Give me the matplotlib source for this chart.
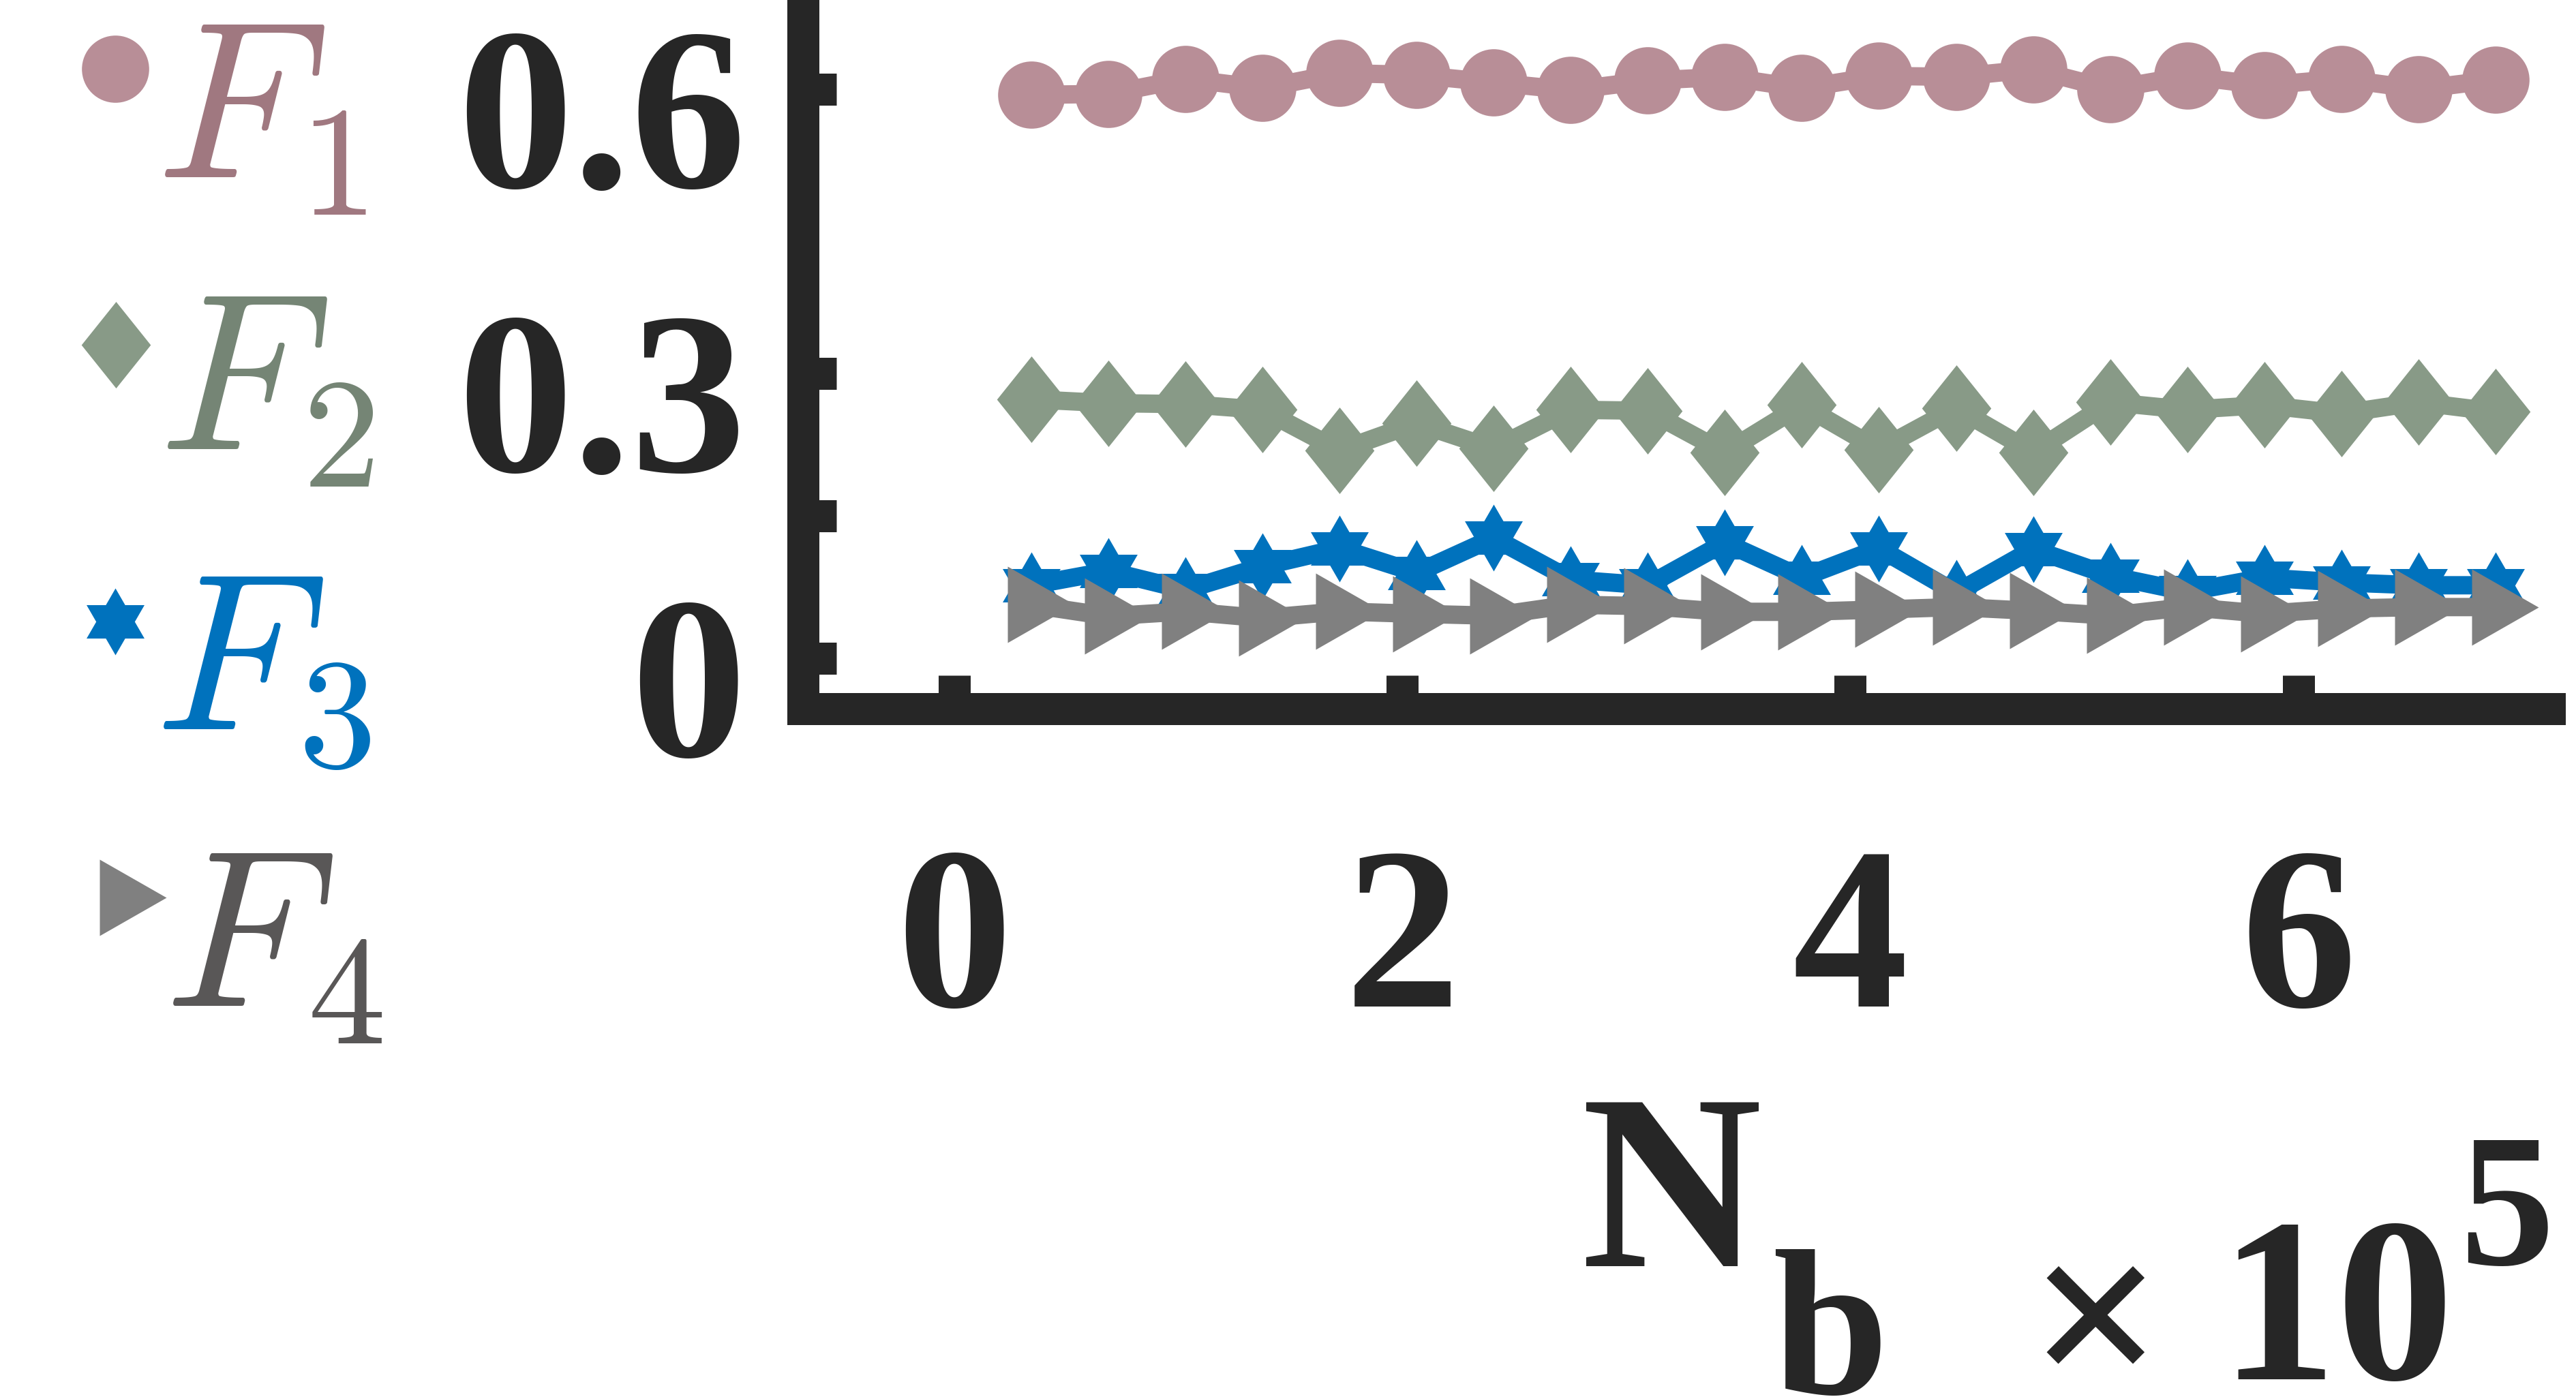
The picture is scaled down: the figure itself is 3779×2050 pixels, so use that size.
import numpy as np
import matplotlib
matplotlib.use('Agg')
import matplotlib.pyplot as plt
from matplotlib.lines import Line2D
from matplotlib.transforms import ScaledTranslation

plt.rcParams['mathtext.fontset'] = 'cm'

# data (x in units of 1e5)
nb = [0.344, 0.688, 1.032, 1.376, 1.72, 2.064, 2.408, 2.752, 3.096, 3.44,
      3.784, 4.128, 4.472, 4.816, 5.16, 5.504, 5.848, 6.192, 6.536, 6.88]
f1 = [0.594, 0.595, 0.611, 0.601, 0.617, 0.615, 0.607, 0.599, 0.609, 0.613,
      0.601, 0.614, 0.613, 0.621, 0.600, 0.614, 0.604, 0.611, 0.600, 0.610]
f2 = [0.273, 0.269, 0.268, 0.262, 0.219, 0.248, 0.221, 0.262, 0.261, 0.217,
      0.267, 0.220, 0.264, 0.217, 0.270, 0.262, 0.267, 0.258, 0.270, 0.260]
f3 = [0.077, 0.092, 0.072, 0.097, 0.116, 0.090, 0.127, 0.083, 0.077, 0.122,
      0.085, 0.116, 0.069, 0.115, 0.087, 0.070, 0.085, 0.080, 0.077, 0.077]
f4 = [0.0565, 0.0444, 0.0494, 0.0424, 0.0494, 0.0469, 0.0449, 0.0565, 0.055, 0.049,
      0.049, 0.0514, 0.054, 0.050, 0.045, 0.054, 0.047, 0.0524, 0.054, 0.054]

yticks = [0, 0.15, 0.3, 0.6]
yticklabels = ['0', '', '0.3', '0.6']
xticks = [0, 2, 4, 6]
xticklabels = ['0', '2', '4', '6']
names = [r'$F_1$', r'$F_2$', r'$F_3$', r'$F_4$']

dark = '#262626'
mcols = ['#B88E97', '#889A87', '#0072BD', '#808080']
tcols = ['#A07880', '#758575', '#0072BD', '#595757']

# marker shapes (matlab-like diamond, hexagram, right triangle)
diamond = [(0, 1), (0.8, 0), (0, -1), (-0.8, 0)]
hexa = []
for k in range(12):
    ang = np.pi / 2 + k * np.pi / 6
    r = 1.0 if k % 2 == 0 else 1 / np.sqrt(3)
    hexa.append((r * np.cos(ang), r * np.sin(ang)))
tri = [(-1, -1.6), (1.8, 0), (-1, 1.6)]

markers = ['o', diamond, hexa, tri]
msizes = [71, 91.4, 70.6, 90.7]
series = [f1, f2, f3, f4]

W, H = 3779, 2050
fig = plt.figure(figsize=(W / 100, H / 100), dpi=100)
ax = fig.add_axes([1178 / W, 1 - 1039.5 / H, (3740 - 1178) / W, 1039.5 / H + 0.02])

for ys, m, ms, c in zip(series, markers, msizes, mcols):
    ax.plot(nb, ys, color=c, lw=19.4, marker=m, ms=ms, mew=0, mfc=c)

ax.set_xlim(-0.6756, 7.121)
ax.set_ylim(-0.0528, 0.694 + 0.02 * H / 1391.9)

for s in ['top', 'right']:
    ax.spines[s].set_visible(False)
for s in ['left', 'bottom']:
    ax.spines[s].set_linewidth(33.84)
    ax.spines[s].set_color(dark)
    ax.spines[s].set_capstyle('projecting')

ax.set_xticks(xticks)
ax.set_xticklabels(xticklabels)
ax.set_yticks(yticks)
ax.set_yticklabels(yticklabels)
ax.tick_params(direction='in', length=35, width=33.84, color=dark,
               labelcolor=dark, labelsize=244)
ax.tick_params(axis='x', pad=315)
ax.tick_params(axis='y', pad=60)

for lab in ax.get_xticklabels() + ax.get_yticklabels():
    lab.set_family('Liberation Serif')
    lab.set_weight('bold')
for t in ax.xaxis.get_major_ticks():
    t.label1.set_va('baseline')
off = ScaledTranslation(0, -1.44, fig.dpi_scale_trans)
for t in ax.yaxis.get_major_ticks():
    t.label1.set_va('baseline')
    t.label1.set_transform(t.label1.get_transform() + off)

# legend on the left
mark_xy = [(169, 101), (170, 506), (169, 912), (181, 1317)]
text_xy = [(229, 260), (233, 659), (227, 1070), (241, 1476)]
for i in range(4):
    mx, my = mark_xy[i]
    fig.add_artist(Line2D([mx / W], [1 - my / H], transform=fig.transFigure,
                          marker=markers[i], ms=msizes[i], mew=0,
                          mfc=mcols[i], ls='none'))
    tx, ty = text_xy[i]
    fig.text(tx / W, 1 - ty / H, names[i], fontsize=236, color=tcols[i],
             ha='left', va='baseline')

# axis label and exponent
fig.text(2320 / W, 1 - 1858 / H, 'N', fontsize=264, fontweight='bold',
         family='Liberation Serif', color=dark, va='baseline')
fig.text(2600 / W, 1 - 2045 / H, 'b', fontsize=220, fontweight='bold',
         family='Liberation Serif', color=dark, va='baseline')
fig.text(2976 / W, 1 - 2044 / H, '\u00d7', fontsize=248, fontweight='bold',
         family='Liberation Serif', color=dark, va='baseline')
fig.text(3255 / W, 1 - 2024 / H, '10', fontsize=248, fontweight='bold',
         family='Liberation Serif', color=dark, va='baseline')
fig.text(3608 / W, 1 - 1855 / H, '5', fontsize=200, fontweight='bold',
         family='Liberation Serif', color=dark, va='baseline')

fig.savefig('out.png', dpi=100)
